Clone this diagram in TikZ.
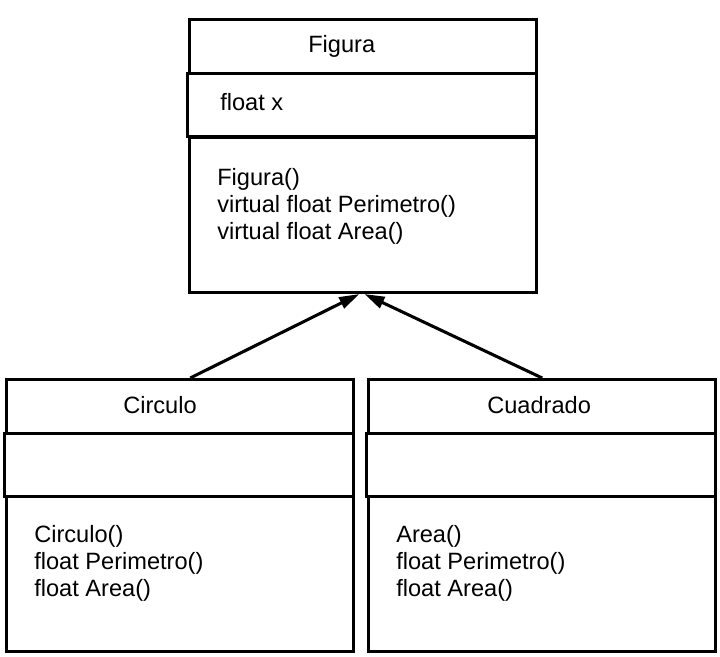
\documentclass[tikz,border=0pt]{standalone}
\usepackage{fontspec}
\setmainfont{Liberation Sans}
\usetikzlibrary{arrows.meta}

\begin{document}
\begin{tikzpicture}[x=0.75pt, y=-0.75pt,
  %% class compartments -- plain black frames
  cbox/.style={
    draw=black, line width=2.3pt, rectangle, anchor=north west,
    inner sep=0pt, minimum width=260.5pt
  },
  hbox/.style={cbox, minimum height=40.5pt},
  abox/.style={cbox, minimum height=47.5pt},
  mbox/.style={cbox, minimum height=116.25pt},
  %% compartment texts (base = last line)
  ctxt/.style={
    anchor=base west, inner sep=0pt, align=left,
    font=\fontsize{17.7}{19.9}\selectfont
  },
  arr/.style={-{Triangle[length=15pt,width=9pt]}, line width=2.3pt}
]
\useasboundingbox (0,0) rectangle (720,656);

%% -- Figura --------------------------------------------------
\node[hbox] (fhead) at (188, 18) {};
\node[abox, minimum width=262pt] (fattr) at (186, 72) {};
\node[mbox] (fmeth) at (188,136) {};

\node[ctxt] (fname) at (308, 53) {Figura};
\node[ctxt] (fvar)  at (220,111) {float x};
\node[ctxt] (fops)  at (217,239)
  {Figura()\\virtual float Perimetro()\\virtual float Area()};

%% -- Circulo -------------------------------------------------
\node[hbox] (chead) at (5,378) {};
\node[abox, minimum width=262pt] (cattr) at (3,432) {};
\node[mbox] (cmeth) at (5,495) {};

\node[ctxt] (cname) at (123,413) {Circulo};
\node[ctxt] (cops)  at (34,596)
  {Circulo()\\float Perimetro()\\float Area()};

%% -- Cuadrado ------------------------------------------------
\node[hbox] (qhead) at (367,378) {};
\node[abox, minimum width=262pt] (qattr) at (365,432) {};
\node[mbox] (qmeth) at (367,495) {};

\node[ctxt] (qname) at (487,413) {Cuadrado};
\node[ctxt] (qops)  at (396,596)
  {Area()\\float Perimetro()\\float Area()};

%% -- Inheritance ---------------------------------------------
\draw[arr] ([xshift=7.5pt]chead.north) -- ([xshift=-3pt]fmeth.south);
\draw[arr] (qhead.north) -- ([xshift=1pt]fmeth.south);

\end{tikzpicture}
\end{document}
